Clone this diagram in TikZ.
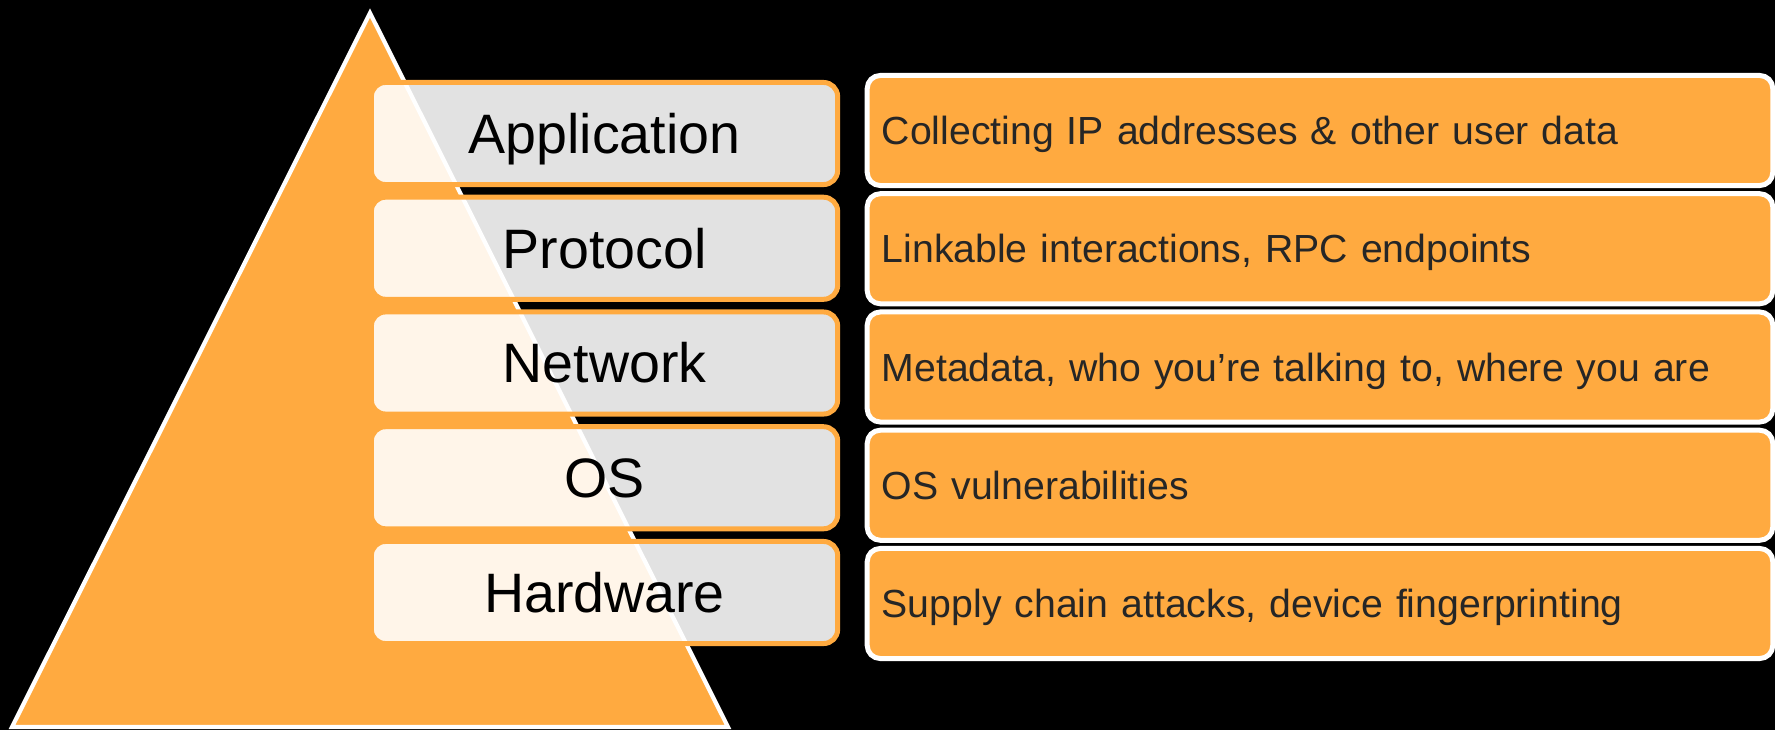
\documentclass[tikz,border=0pt]{standalone}
\usepackage{fontspec}
\setmainfont{Liberation Sans}
\definecolor{layerorange}{RGB}{255,170,64}
\definecolor{notetext}{RGB}{38,38,38}
\begin{document}
\begin{tikzpicture}[x=0.01cm, y=-0.01cm,
  layerbox/.style={draw=layerorange, line width=1.42pt, fill=white,
    fill opacity=0.885, text opacity=1, rounded corners=0.14cm,
    minimum width=4.66cm, minimum height=1.02cm, inner sep=0pt,
    font=\fontsize{15.8pt}{19pt}\selectfont, text=black,
    text height=11.3pt, text depth=0pt},
  notebox/.style={draw=white, line width=1.42pt, fill=layerorange,
    rounded corners=0.13cm, minimum width=9.05cm, minimum height=1.10cm,
    inner xsep=0.145cm, inner ysep=0pt, text width=8.76cm, align=left,
    font=\fontsize{11.15pt}{14pt}\selectfont, text=notetext,
    text height=8.0pt, text depth=0pt}]
  % page background
  \fill[black] (0,0) rectangle (1775,730);
  \useasboundingbox (0,0) rectangle (1775,730);
  \clip (0,0) rectangle (1775,730);

  % the pyramid behind the layer labels
  \draw[white, line width=1.2pt, fill=layerorange]
    (370,13) -- (728,727) -- (12,727) -- cycle;

  % stack of layers
  \node[layerbox] (app)   at (604.5,133.5)  {Application};
  \node[layerbox] (proto) at (604.5,248.25) {Protocol};
  \node[layerbox] (net)   at (604.5,363)    {Network};
  \node[layerbox] (os)    at (604.5,477.75) {OS};
  \node[layerbox] (hw)    at (604.5,592.5)  {Hardware};

  % what can leak at each layer
  \node[notebox] (appnote)   at (1320,130.5)  {Collecting IP addresses \& other user data};
  \node[notebox] (protonote) at (1320,248.75) {Linkable interactions, RPC endpoints};
  \node[notebox] (netnote)   at (1320,367)    {Metadata, who you’re talking to, where you are};
  \node[notebox] (osnote)    at (1320,485.25) {OS vulnerabilities};
  \node[notebox] (hwnote)    at (1320,603.5)  {Supply chain attacks, device fingerprinting};
\end{tikzpicture}
\end{document}
